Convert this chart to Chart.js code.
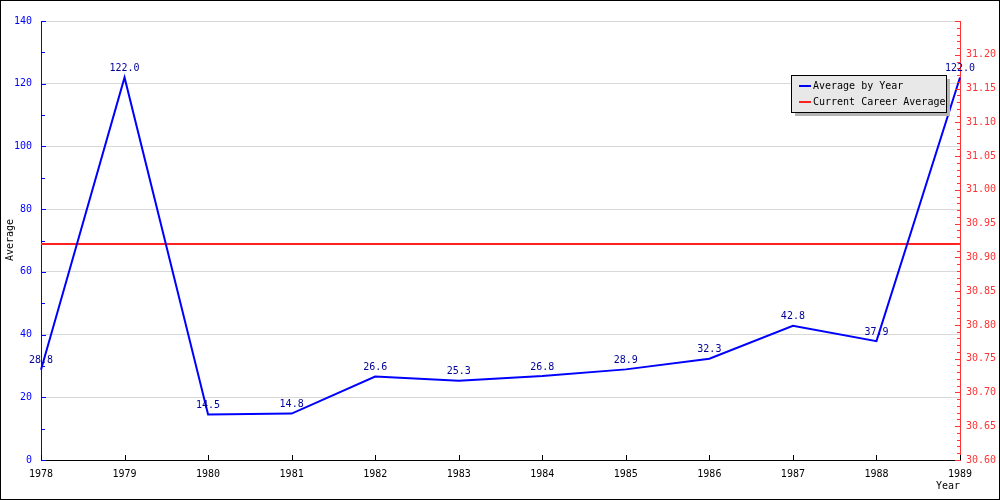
<!DOCTYPE html>
<html>
<head>
<meta charset="utf-8">
<script src="https://cdn.jsdelivr.net/npm/chart.js@4"></script>
<style>
  html, body { margin: 0; padding: 0; background: #fff; }
  #wrap { width: 1000px; height: 500px; }
</style>
</head>
<body>
<div id="wrap"><canvas id="chart" width="1000" height="500"></canvas></div>
<script>
const years = ['1978', '1979', '1980', '1981', '1982', '1983', '1984', '1985', '1986', '1987', '1988', '1989'];
const averageByYear = [28.8, 122.0, 14.5, 14.8, 26.6, 25.3, 26.8, 28.9, 32.3, 42.8, 37.9, 122.0];
const careerAverage = 30.92;
const leftTicks = [0, 20, 40, 60, 80, 100, 120, 140];
const rightMin = 30.60;
const rightMax = 31.25;

const mono = { family: 'DejaVu Sans Mono', size: 10 };
const fontStr = '10px "DejaVu Sans Mono"';

// ticks drawn inside the plot, legend box, data labels, outer frame
const extras = {
  id: 'extras',
  afterDraw(chart) {
    const { ctx, chartArea: a, scales } = chart;
    const x = scales.x, y = scales.y, y2 = scales.y2;
    ctx.save();
    ctx.lineWidth = 1;

    ctx.strokeStyle = '#0000ff';
    for (let v = 0; v <= 140; v += 10) {
      const py = Math.round(y.getPixelForValue(v)) + 0.5;
      ctx.beginPath();
      ctx.moveTo(a.left, py);
      ctx.lineTo(a.left + (v % 20 === 0 ? 5 : 4), py);
      ctx.stroke();
    }

    ctx.strokeStyle = '#ff3333';
    for (let i = 0; i <= 65; i++) {
      const py = Math.round(y2.getPixelForValue(rightMin + i * 0.01)) + 0.5;
      ctx.beginPath();
      ctx.moveTo(a.right, py);
      ctx.lineTo(a.right - (i % 5 === 0 ? 5 : 3), py);
      ctx.stroke();
    }

    ctx.strokeStyle = '#000';
    years.forEach((yr, i) => {
      const px = Math.round(x.getPixelForValue(i)) + 0.5;
      ctx.beginPath();
      ctx.moveTo(px, a.bottom);
      ctx.lineTo(px, a.bottom - 5);
      ctx.stroke();
    });

    ctx.font = fontStr;
    ctx.fillStyle = '#000099';
    ctx.textAlign = 'center';
    ctx.textBaseline = 'bottom';
    averageByYear.forEach((v, i) => {
      ctx.fillText(v.toFixed(1), x.getPixelForValue(i), y.getPixelForValue(v) - 4);
    });

    ctx.fillStyle = '#000';
    ctx.textBaseline = 'middle';
    ctx.fillText('Year', 948, 486);
    ctx.save();
    ctx.translate(10, 240);
    ctx.rotate(-Math.PI / 2);
    ctx.fillText('Average', 0, 0);
    ctx.restore();

    // legend
    const lx = 791, ly = 75, lw = 155, lh = 37;
    ctx.fillStyle = '#b4b4b4';
    ctx.fillRect(lx + 4, ly + 4, lw, lh);
    ctx.fillStyle = '#e8e8e8';
    ctx.fillRect(lx, ly, lw, lh);
    ctx.strokeStyle = '#000';
    ctx.strokeRect(lx + 0.5, ly + 0.5, lw, lh);
    ctx.textAlign = 'left';
    chart.data.datasets.forEach((ds, i) => {
      const iy = ly + 11 + i * 16;
      ctx.strokeStyle = ds.borderColor;
      ctx.lineWidth = 2;
      ctx.beginPath();
      ctx.moveTo(lx + 8, iy);
      ctx.lineTo(lx + 20, iy);
      ctx.stroke();
      ctx.fillStyle = '#000';
      ctx.fillText(ds.label, lx + 22, iy);
    });

    ctx.lineWidth = 1;
    ctx.strokeStyle = '#000';
    ctx.strokeRect(0.5, 0.5, 999, 499);
    ctx.restore();
  }
};

new Chart(document.getElementById('chart'), {
  type: 'line',
  data: {
    labels: years,
    datasets: [{
      label: 'Average by Year',
      data: averageByYear,
      borderColor: '#0000ff',
      borderWidth: 2,
      pointRadius: 0,
      tension: 0,
      yAxisID: 'y',
      order: 0,
    }, {
      label: 'Current Career Average',
      data: years.map(() => careerAverage),
      borderColor: '#ff2020',
      borderWidth: 2,
      pointRadius: 0,
      yAxisID: 'y2',
      order: 1,
    }],
  },
  options: {
    responsive: false,
    animation: false,
    events: [],
    layout: { padding: { top: 21, left: 0, right: 0, bottom: 0 } },
    plugins: {
      legend: { display: false },
      tooltip: { enabled: false },
    },
    scales: {
      x: {
        type: 'category',
        offset: false,
        grid: { display: false, drawTicks: false },
        border: { color: '#000', width: 1 },
        ticks: { color: '#000', font: mono, padding: 8, maxRotation: 0, autoSkip: false },
        afterFit(s) { s.height = 40; },
      },
      y: {
        position: 'left',
        min: 0,
        max: 140,
        afterBuildTicks(s) { s.ticks = leftTicks.map(v => ({ value: v })); },
        grid: { color: '#d8d8d8', drawTicks: false },
        border: { color: '#0000ff', width: 1 },
        ticks: { color: '#0000ff', font: mono, padding: 9 },
        afterFit(s) { s.width = 41; },
      },
      y2: {
        position: 'right',
        min: rightMin,
        max: rightMax,
        grid: { display: false, drawTicks: false },
        border: { color: '#ff3333', width: 1 },
        ticks: {
          color: '#ff3333',
          font: mono,
          padding: 6,
          stepSize: 0.05,
          callback: v => (v > 31.22 ? '' : Number(v).toFixed(2)),
        },
        afterFit(s) { s.width = 40; },
      },
    },
  },
  plugins: [extras],
});
</script>
</body>
</html>
